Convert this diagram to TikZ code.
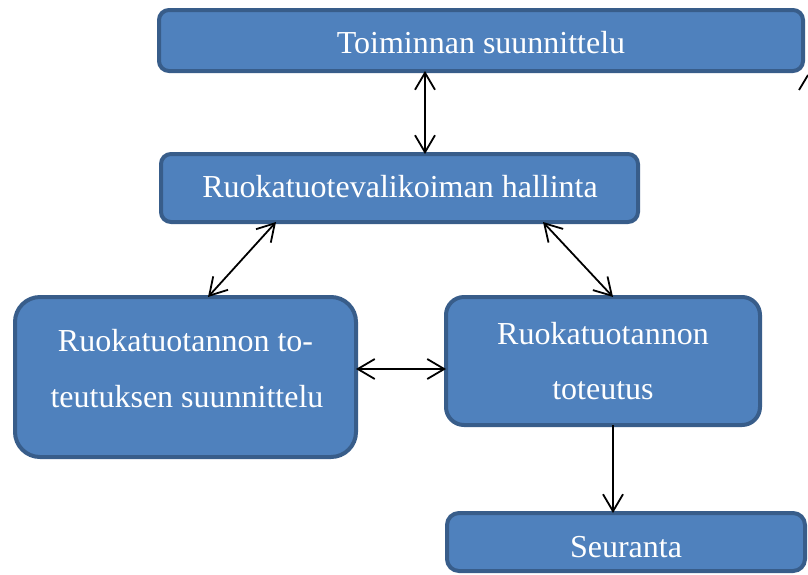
\documentclass[tikz,border=0pt]{standalone}
\usepackage{fontspec}
\setmainfont{Liberation Serif}
\usetikzlibrary{arrows.meta}
\definecolor{boxfill}{HTML}{4F81BD}
\definecolor{boxline}{HTML}{385D8A}
\tikzset{
  box/.style={draw=boxline, fill=boxfill, line width=4pt, inner sep=0pt, outer sep=0pt},
  lbl/.style={text=white, font=\fontsize{32}{56}\selectfont, anchor=base, inner sep=0pt},
  tip/.style={Straight Barb[length=17pt,width=20pt,line width=1.8pt]},
  arr/.style={line width=1.8pt, {Straight Barb[length=17pt,width=20pt,line width=1.8pt]}-{Straight Barb[length=17pt,width=20pt,line width=1.8pt]}},
  arrone/.style={line width=1.8pt, -{Straight Barb[length=17pt,width=20pt,line width=1.8pt]}},
  frag/.style={line width=1.8pt}
}
\begin{document}
\begin{tikzpicture}[x=1pt,y=-1pt]
\useasboundingbox (0,0) rectangle (808,574);
\fill[white] (0,0) rectangle (808,574);
\node[box, rounded corners=10pt, minimum width=644pt, minimum height=61pt] (b1) at (481,40.5) {};
\node[box, rounded corners=10pt, minimum width=477pt, minimum height=68pt] (b2) at (399.5,188) {};
\node[box, rounded corners=25pt, minimum width=341pt, minimum height=160pt] (b3) at (185.5,377) {};
\node[box, rounded corners=18pt, minimum width=314pt, minimum height=128pt] (b4) at (603,361) {};
\node[box, rounded corners=12pt, minimum width=358pt, minimum height=58pt] (b5) at (626,542) {};
\node[lbl] (t1) at (481,53) {Toiminnan suunnittelu};
\node[lbl] (t2) at (400,197) {Ruokatuotevalikoiman hallinta};
\node[lbl] (t3a) at (185.5,351) {Ruokatuotannon to-};
\node[lbl] (t3b) at (187,407) {teutuksen suunnittelu};
\node[lbl] (t4a) at (603,344) {Ruokatuotannon};
\node[lbl] (t4b) at (603,399) {toteutus};
\node[lbl] (t5) at (626,557) {Seuranta};
\draw[arr] ([xshift=-56pt]b1.south) -- ([xshift=25.5pt]b2.north);
\draw[arr] ([xshift=115pt]b2.south west) -- ([xshift=193pt]b3.north west);
\draw[arr] ([xshift=382pt]b2.south west) -- ([xshift=167pt]b4.north west);
\draw[arr] ([yshift=8pt]b3.east) -- ([yshift=-8pt]b4.west);
\draw[arrone] ([xshift=10pt]b4.south) -- ([xshift=-13pt]b5.north);
\coordinate (f1) at (799,90);
\coordinate (f2) at (808,75);
\draw[frag] (f1) -- (f2);
\end{tikzpicture}
\end{document}
